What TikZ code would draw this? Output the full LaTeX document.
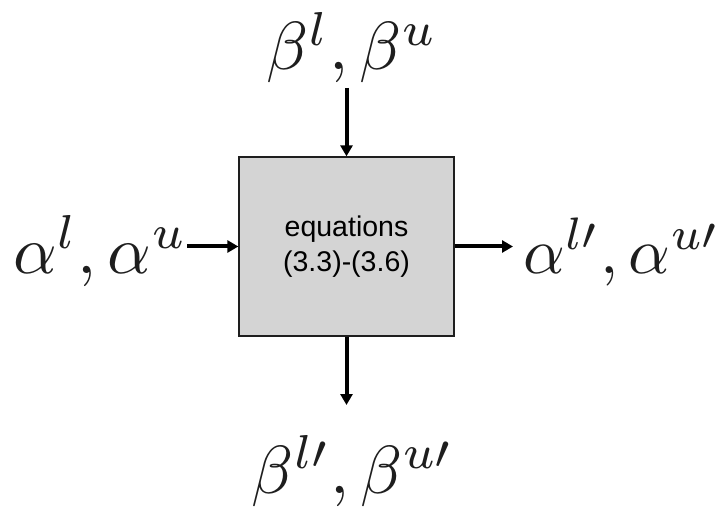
\documentclass[tikz,border=0pt]{standalone}
\usepackage{fontspec}
\newfontfamily\sansf{Liberation Sans}
\usetikzlibrary{arrows.meta}
\definecolor{boxfill}{RGB}{212,212,212}
\definecolor{inkgray}{RGB}{30,30,30}
\newcommand{\biglbl}[2][6.8]{\scalebox{#1}{$#2$}}
\begin{document}
\begin{tikzpicture}[x=1pt,y=-1pt,
  conn/.style={line width=4pt,-{Triangle[length=11pt,width=12pt]}},
  lbl/.style={inner sep=0pt, text=inkgray},
  procbox/.style={draw=inkgray, line width=1.3pt, fill=boxfill, minimum width=215pt, minimum height=179pt, inner sep=0pt, align=center, font=\sansf\fontsize{28.5}{35}\selectfont}]
\useasboundingbox (0,0) rectangle (721,508);
\node[procbox] (box) at (346.5,246.5) {equations\\(3.3)-(3.6)};
\node[lbl, anchor=base west] (ain) at (13,273) {\biglbl{\alpha^l, \alpha^u}};
\node[lbl, anchor=base east] (aout) at (720,273) {\biglbl[6.5]{\alpha^{l\prime}, \alpha^{u\prime}}};
\node[lbl, anchor=base] (bin) at (352,70) {\biglbl{\beta^l, \beta^u}};
\node[lbl, anchor=base] (bout) at (353,493) {\biglbl{\beta^{l\prime}, \beta^{u\prime}}};
\coordinate (tstart) at (346.5,88);
\coordinate (bend) at (346.5,405);
\coordinate (lstart) at (187,246.5);
\coordinate (rend) at (513,246.5);
\draw[conn] (tstart) -- (box.north);
\draw[conn] (box.south) -- (bend);
\draw[conn] (lstart) -- (box.west);
\draw[conn] (box.east) -- (rend);
\end{tikzpicture}
\end{document}
